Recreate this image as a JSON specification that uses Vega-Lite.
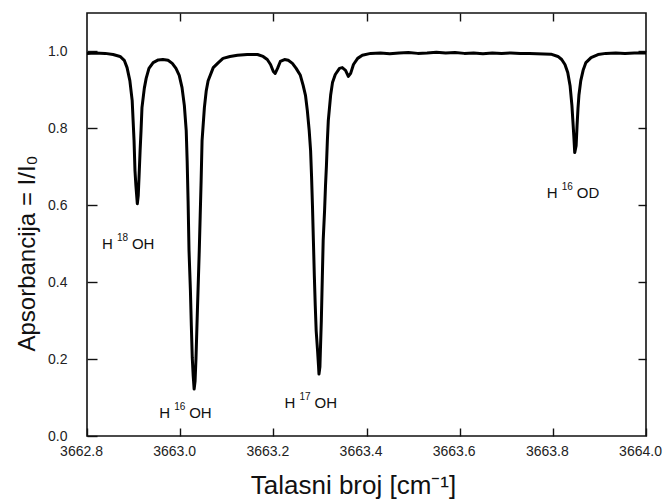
{
  "$schema": "https://vega.github.io/schema/vega-lite/v6.json",
  "width": 559,
  "height": 423,
  "autosize": {"type": "none"},
  "padding": {"left": 87, "top": 13, "right": 19, "bottom": 65},
  "background": "white",
  "config": {
    "view": {"stroke": "#111", "strokeWidth": 1.6},
    "font": "Liberation Sans",
    "axis": {"grid": false, "domain": false, "tickColor": "#111", "tickWidth": 1.4, "labelFont": "Liberation Sans", "labelFontSize": 14, "labelColor": "#222", "titleFont": "Liberation Sans", "titleFontWeight": "normal", "titleColor": "#111"}
  },
  "datasets": {
    "spectrum": [
      {"w": 3662.800, "v": 0.995}, {"w": 3662.817, "v": 0.996}, {"w": 3662.839, "v": 0.995}, {"w": 3662.856, "v": 0.992},
      {"w": 3662.871, "v": 0.987}, {"w": 3662.880, "v": 0.977}, {"w": 3662.886, "v": 0.958}, {"w": 3662.892, "v": 0.924},
      {"w": 3662.897, "v": 0.872}, {"w": 3662.899, "v": 0.820}, {"w": 3662.901, "v": 0.768}, {"w": 3662.903, "v": 0.690},
      {"w": 3662.905, "v": 0.651}, {"w": 3662.908, "v": 0.604}, {"w": 3662.910, "v": 0.625}, {"w": 3662.912, "v": 0.682},
      {"w": 3662.914, "v": 0.742}, {"w": 3662.916, "v": 0.794}, {"w": 3662.918, "v": 0.854}, {"w": 3662.923, "v": 0.904},
      {"w": 3662.927, "v": 0.930}, {"w": 3662.933, "v": 0.956}, {"w": 3662.942, "v": 0.971}, {"w": 3662.953, "v": 0.978},
      {"w": 3662.963, "v": 0.979}, {"w": 3662.974, "v": 0.977}, {"w": 3662.983, "v": 0.969}, {"w": 3662.991, "v": 0.956},
      {"w": 3662.998, "v": 0.938}, {"w": 3663.004, "v": 0.906}, {"w": 3663.009, "v": 0.859}, {"w": 3663.013, "v": 0.794},
      {"w": 3663.015, "v": 0.716}, {"w": 3663.017, "v": 0.612}, {"w": 3663.019, "v": 0.482}, {"w": 3663.022, "v": 0.378},
      {"w": 3663.024, "v": 0.286}, {"w": 3663.026, "v": 0.203}, {"w": 3663.028, "v": 0.156}, {"w": 3663.030, "v": 0.122},
      {"w": 3663.032, "v": 0.143}, {"w": 3663.034, "v": 0.203}, {"w": 3663.037, "v": 0.326}, {"w": 3663.039, "v": 0.404},
      {"w": 3663.041, "v": 0.482}, {"w": 3663.043, "v": 0.573}, {"w": 3663.045, "v": 0.664}, {"w": 3663.047, "v": 0.768},
      {"w": 3663.052, "v": 0.854}, {"w": 3663.056, "v": 0.898}, {"w": 3663.060, "v": 0.924}, {"w": 3663.071, "v": 0.958},
      {"w": 3663.082, "v": 0.971}, {"w": 3663.092, "v": 0.982}, {"w": 3663.107, "v": 0.987}, {"w": 3663.123, "v": 0.990},
      {"w": 3663.144, "v": 0.992}, {"w": 3663.166, "v": 0.992}, {"w": 3663.178, "v": 0.987}, {"w": 3663.187, "v": 0.979},
      {"w": 3663.194, "v": 0.966}, {"w": 3663.200, "v": 0.948}, {"w": 3663.204, "v": 0.943}, {"w": 3663.209, "v": 0.956},
      {"w": 3663.215, "v": 0.974}, {"w": 3663.224, "v": 0.979}, {"w": 3663.232, "v": 0.977}, {"w": 3663.241, "v": 0.969},
      {"w": 3663.249, "v": 0.956}, {"w": 3663.258, "v": 0.938}, {"w": 3663.264, "v": 0.912}, {"w": 3663.269, "v": 0.886},
      {"w": 3663.273, "v": 0.846}, {"w": 3663.277, "v": 0.794}, {"w": 3663.280, "v": 0.742}, {"w": 3663.282, "v": 0.677},
      {"w": 3663.284, "v": 0.599}, {"w": 3663.286, "v": 0.508}, {"w": 3663.288, "v": 0.417}, {"w": 3663.290, "v": 0.339},
      {"w": 3663.292, "v": 0.273}, {"w": 3663.295, "v": 0.221}, {"w": 3663.297, "v": 0.182}, {"w": 3663.298, "v": 0.161},
      {"w": 3663.300, "v": 0.180}, {"w": 3663.301, "v": 0.221}, {"w": 3663.303, "v": 0.299}, {"w": 3663.305, "v": 0.404},
      {"w": 3663.307, "v": 0.508}, {"w": 3663.310, "v": 0.586}, {"w": 3663.312, "v": 0.651}, {"w": 3663.314, "v": 0.703},
      {"w": 3663.316, "v": 0.768}, {"w": 3663.318, "v": 0.820}, {"w": 3663.323, "v": 0.886}, {"w": 3663.327, "v": 0.919},
      {"w": 3663.333, "v": 0.940}, {"w": 3663.342, "v": 0.956}, {"w": 3663.348, "v": 0.958}, {"w": 3663.355, "v": 0.951},
      {"w": 3663.361, "v": 0.935}, {"w": 3663.366, "v": 0.943}, {"w": 3663.372, "v": 0.966}, {"w": 3663.381, "v": 0.982},
      {"w": 3663.391, "v": 0.990}, {"w": 3663.409, "v": 0.995}, {"w": 3663.430, "v": 0.996}, {"w": 3663.450, "v": 0.994},
      {"w": 3663.470, "v": 0.996}, {"w": 3663.490, "v": 0.997}, {"w": 3663.510, "v": 0.995}, {"w": 3663.530, "v": 0.996},
      {"w": 3663.550, "v": 0.998}, {"w": 3663.570, "v": 0.996}, {"w": 3663.590, "v": 0.997}, {"w": 3663.610, "v": 0.995},
      {"w": 3663.630, "v": 0.996}, {"w": 3663.650, "v": 0.994}, {"w": 3663.670, "v": 0.996}, {"w": 3663.690, "v": 0.995},
      {"w": 3663.710, "v": 0.996}, {"w": 3663.730, "v": 0.995}, {"w": 3663.750, "v": 0.995}, {"w": 3663.796, "v": 0.993},
      {"w": 3663.811, "v": 0.987}, {"w": 3663.819, "v": 0.979}, {"w": 3663.826, "v": 0.966}, {"w": 3663.832, "v": 0.945},
      {"w": 3663.837, "v": 0.911}, {"w": 3663.841, "v": 0.859}, {"w": 3663.843, "v": 0.820}, {"w": 3663.845, "v": 0.781},
      {"w": 3663.847, "v": 0.737}, {"w": 3663.850, "v": 0.755}, {"w": 3663.852, "v": 0.807}, {"w": 3663.854, "v": 0.852},
      {"w": 3663.856, "v": 0.886}, {"w": 3663.860, "v": 0.924}, {"w": 3663.865, "v": 0.951}, {"w": 3663.871, "v": 0.971},
      {"w": 3663.882, "v": 0.984}, {"w": 3663.897, "v": 0.992}, {"w": 3663.914, "v": 0.995}, {"w": 3663.935, "v": 0.996},
      {"w": 3663.955, "v": 0.995}, {"w": 3663.975, "v": 0.996}, {"w": 3664.000, "v": 0.996}
    ],
    "labels": [
      {"w": 3662.832, "v": 0.487, "base": "H", "sup": "18", "tail": "OH"},
      {"w": 3662.955, "v": 0.047, "base": "H", "sup": "16", "tail": "OH"},
      {"w": 3663.224, "v": 0.073, "base": "H", "sup": "17", "tail": "OH"},
      {"w": 3663.787, "v": 0.620, "base": "H", "sup": "16", "tail": "OD"}
    ]
  },
  "layer": [
    {
      "data": {"name": "spectrum"},
      "mark": {"type": "line", "color": "#000", "strokeWidth": 3, "clip": true, "strokeJoin": "round"},
      "encoding": {
        "x": {"field": "w", "type": "quantitative", "scale": {"domain": [3662.8, 3664.0], "nice": false, "zero": false},
          "axis": {"orient": "bottom", "values": [3662.8, 3663.0, 3663.2, 3663.4, 3663.6, 3663.8, 3664.0], "format": ".1f", "tickSize": -8, "labelPadding": 16, "labelFlush": false, "labelOffset": -6,
            "title": "Talasni broj [cm⁻¹]", "titleFontSize": 26, "titleX": 266, "titleY": 57, "titleBaseline": "alphabetic", "titleAlign": "center"}},
        "y": {"field": "v", "type": "quantitative", "scale": {"domain": [0, 1.1], "nice": false, "zero": false},
          "axis": {"orient": "left", "values": [0, 0.2, 0.4, 0.6, 0.8, 1.0], "format": ".1f", "tickSize": -10, "labelPadding": 30,
            "title": "Apsorbancija = I/I₀", "titleFontSize": 24, "titleX": -53, "titleY": 240, "titleAngle": -90, "titleBaseline": "alphabetic", "titleAlign": "center"}}
      }
    },
    {
      "data": {"name": "labels"},
      "mark": {"type": "text", "align": "left", "baseline": "alphabetic", "fontSize": 15, "font": "Liberation Sans", "color": "#111"},
      "encoding": {
        "x": {"field": "w", "type": "quantitative", "axis": {"orient": "top", "values": [3663.0, 3663.2, 3663.4, 3663.6, 3663.8], "labels": false, "tickSize": -8, "title": null}},
        "y": {"field": "v", "type": "quantitative", "axis": {"orient": "right", "values": [0.2, 0.4, 0.6, 0.8, 1.0], "labels": false, "tickSize": -8, "title": null}},
        "text": {"field": "base"}
      }
    },
    {
      "data": {"name": "labels"},
      "mark": {"type": "text", "align": "left", "baseline": "alphabetic", "fontSize": 10, "dx": 15, "dy": -8, "font": "Liberation Sans", "color": "#111"},
      "encoding": {
        "x": {"field": "w", "type": "quantitative", "axis": null},
        "y": {"field": "v", "type": "quantitative", "axis": null},
        "text": {"field": "sup"}
      }
    },
    {
      "data": {"name": "labels"},
      "mark": {"type": "text", "align": "left", "baseline": "alphabetic", "fontSize": 15, "dx": 30, "font": "Liberation Sans", "color": "#111"},
      "encoding": {
        "x": {"field": "w", "type": "quantitative", "axis": null},
        "y": {"field": "v", "type": "quantitative", "axis": null},
        "text": {"field": "tail"}
      }
    }
  ],
  "resolve": {"axis": {"x": "independent", "y": "independent"}}
}
